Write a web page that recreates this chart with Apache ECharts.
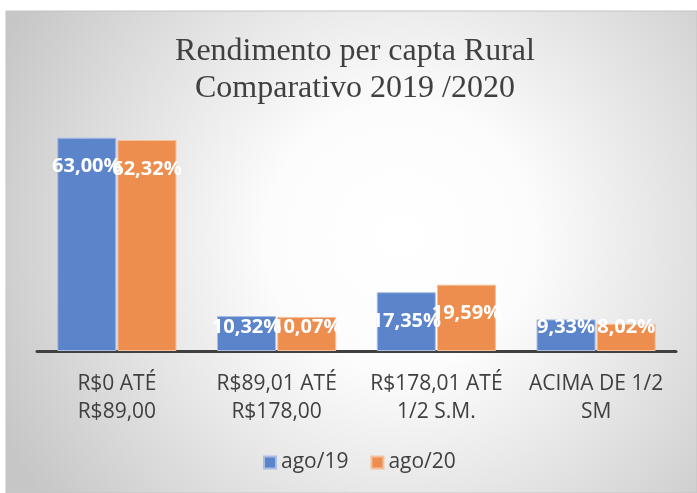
<!DOCTYPE html>
<html>
<head>
<meta charset="utf-8">
<script src="https://cdn.jsdelivr.net/npm/echarts@6/dist/echarts.min.js"></script>
<style>
  html, body { margin: 0; padding: 0; background: #ffffff; }
  #chart { width: 697px; height: 493px; }
</style>
</head>
<body>
<div id="chart"></div>
<script>
// Income brackets (rural per-capita income) and shares for Aug/2019 vs Aug/2020
const categories = [
  'R$0 ATÉ\nR$89,00',
  'R$89,01 ATÉ\nR$178,00',
  'R$178,01 ATÉ\n1/2 S.M.',
  'ACIMA DE 1/2\nSM'
];
const seriesNames = ['ago/19', 'ago/20'];
const ago19 = [63.00, 10.32, 17.35, 9.33];
const ago20 = [62.32, 10.07, 19.59, 8.02];
const titleLines = ['Rendimento per capta Rural', 'Comparativo 2019 /2020'];

const chart = echarts.init(document.getElementById('chart'), null, { renderer: 'canvas' });

const fmtPct = (p) => p.value.toFixed(2).replace('.', ',') + '%';

// Labels sit near the top of tall bars, but stay clear of the axis on short ones
const placeLabel = (params) => {
  const r = params.rect;
  return {
    x: r.x + r.width / 2,
    y: Math.min(r.y + 29, r.y + r.height - 24),
    align: 'center',
    verticalAlign: 'middle'
  };
};

const barLabel = {
  show: true,
  position: 'insideTop',
  formatter: fmtPct,
  color: '#ffffff',
  fontFamily: 'Open Sans',
  fontWeight: 'bold',
  fontSize: 20
};

chart.setOption({
  backgroundColor: '#ffffff',
  animation: false,
  graphic: [{
    type: 'rect',
    z: -10,
    shape: { x: 6, y: 11, width: 691, height: 482 },
    style: {
      stroke: '#c4c4c4',
      lineWidth: 1,
      fill: {
        type: 'radial', x: 0.57, y: 0.47, r: 0.92,
        colorStops: [
          { offset: 0, color: '#ffffff' },
          { offset: 0.3, color: '#fcfcfc' },
          { offset: 0.75, color: '#dadada' },
          { offset: 1, color: '#c6c6c6' }
        ]
      }
    }
  }],
  title: {
    text: titleLines.join('\n'),
    left: 355,
    top: 33,
    padding: 0,
    textAlign: 'center',
    textStyle: {
      fontFamily: 'Liberation Serif',
      fontWeight: 'normal',
      fontSize: 32,
      lineHeight: 37,
      color: '#404040'
    }
  },
  legend: {
    data: seriesNames,
    left: 263,
    top: 452,
    padding: 0,
    itemWidth: 12,
    itemHeight: 12,
    itemGap: 22,
    icon: 'rect',
    textStyle: { fontFamily: 'Open Sans', fontSize: 21, color: '#404040' }
  },
  grid: { left: 37, right: 21, top: 114, bottom: 142 },
  xAxis: {
    type: 'category',
    data: categories,
    axisLine: { lineStyle: { color: '#404040', width: 3 } },
    axisTick: { show: false },
    axisLabel: {
      interval: 0,
      margin: 19,
      fontFamily: 'Open Sans',
      fontSize: 21,
      lineHeight: 28,
      color: '#404040'
    }
  },
  yAxis: {
    type: 'value',
    min: 0,
    max: 70,
    show: false,
    splitLine: { show: false }
  },
  series: [
    {
      name: seriesNames[0],
      type: 'bar',
      data: ago19,
      barWidth: 59,
      barGap: '2%',
      itemStyle: { color: '#5b84ca', borderColor: '#a9bde4', borderWidth: 1 },
      label: barLabel,
      labelLayout: placeLabel
    },
    {
      name: seriesNames[1],
      type: 'bar',
      data: ago20,
      barWidth: 59,
      barGap: '2%',
      itemStyle: { color: '#ee8e4e', borderColor: '#f5c09c', borderWidth: 1 },
      label: barLabel,
      labelLayout: placeLabel
    }
  ]
});
</script>
</body>
</html>
